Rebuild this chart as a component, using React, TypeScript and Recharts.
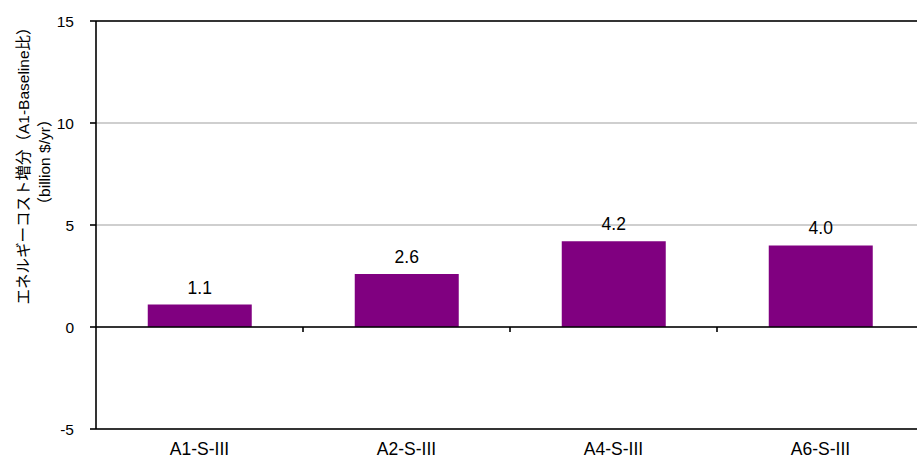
import { BarChart, Bar, XAxis, YAxis, CartesianGrid, ReferenceLine, LabelList, Label } from "recharts";

const scenarios = ["A1-S-III", "A2-S-III", "A4-S-III", "A6-S-III"];
const costIncrease = [1.1, 2.6, 4.2, 4.0];
const yTicks = [-5, 0, 5, 10, 15];
const boundaries = [1, 2, 3];

const titleLines = ["エネルギーコスト増分（A1-Baseline比）", "（billion $/yr）"];

// "slot" is the category's centre on a 0..4 numeric scale
const data = scenarios.map((name, i) => ({ name, value: costIncrease[i], slot: i + 0.5 }));

const FONT = "'Liberation Sans', Arial, 'Noto Sans CJK JP', sans-serif";

function YTitle() {
    return (
        <text
            transform="translate(29,162) rotate(-90)"
            textAnchor="middle"
            fontFamily={FONT}
            fontSize={15.5}
            fill="#000"
        >
            <tspan x={0} dy={0}>{titleLines[0]}</tspan>
            <tspan x={0} dy={21}>{titleLines[1]}</tspan>
        </text>
    );
}

export default function App() {
    return (
        <div style={{ position: "absolute", left: 0, top: 0, width: 917, height: 459, overflow: "hidden", background: "#fff" }}>
            <BarChart
                width={930}
                height={459}
                data={data}
                margin={{ top: 21, right: 6, left: 0, bottom: 0 }}
                barCategoryGap="25%"
            >
                <CartesianGrid xAxisId="cat" vertical={false} stroke="#a0a0a0" strokeWidth={1.2} />
                <XAxis
                    xAxisId="cat"
                    dataKey="name"
                    height={30}
                    tickLine={false}
                    tickSize={0}
                    tickMargin={14}
                    axisLine={{ stroke: "#000", strokeWidth: 1.6 }}
                    tick={{ fill: "#000", fontSize: 17.5, fontFamily: FONT }}
                />
                {/* numeric frame axis, used only to place the category boundary ticks */}
                <XAxis
                    xAxisId="frame"
                    dataKey="slot"
                    type="number"
                    domain={[0, 4]}
                    ticks={[0, 1, 2, 3, 4]}
                    allowDataOverflow
                    hide
                />
                <YAxis
                    width={96}
                    domain={[-5, 15]}
                    ticks={yTicks}
                    interval={0}
                    tickSize={6}
                    tickMargin={16}
                    axisLine={{ stroke: "#000", strokeWidth: 1.6 }}
                    tickLine={{ stroke: "#000", strokeWidth: 1.6 }}
                    tick={{ fill: "#000", fontSize: 15.5, fontFamily: FONT }}
                >
                    <Label content={YTitle} />
                </YAxis>
                <ReferenceLine xAxisId="cat" y={15} stroke="#000" strokeWidth={1.6} />
                <Bar xAxisId="cat" dataKey="value" fill="#800080" isAnimationActive={false}>
                    <LabelList
                        dataKey="value"
                        position="top"
                        offset={11}
                        formatter={(v: number) => v.toFixed(1)}
                        fill="#000"
                        fontSize={17.5}
                        fontFamily={FONT}
                    />
                </Bar>
                <ReferenceLine xAxisId="cat" y={0} stroke="#000" strokeWidth={1.6} />
                {boundaries.map((b) => (
                    <ReferenceLine
                        key={b}
                        xAxisId="frame"
                        segment={[{ x: b, y: 0 }, { x: b, y: -0.25 }]}
                        stroke="#000"
                        strokeWidth={1.6}
                        ifOverflow="visible"
                    />
                ))}
            </BarChart>
        </div>
    );
}
